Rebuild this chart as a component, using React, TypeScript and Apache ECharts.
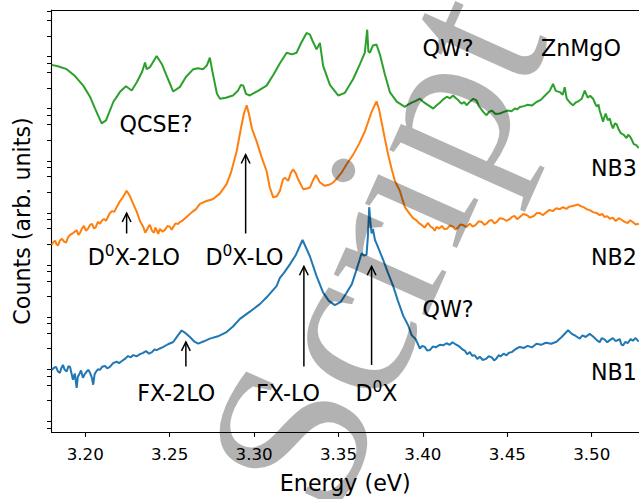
import React, { useEffect, useRef } from 'react';
import * as echarts from 'echarts';

// ---- axis ticks ----
const xTickValues = [3.2, 3.25, 3.3, 3.35, 3.4, 3.45, 3.5];
const yTickMantissas = [1, 2.5, 5, 7.5];
const yTickDecades = [-1, 0, 1, 2, 3, 4, 5, 6, 7];
const xRange = [3.18, 3.528];
const yRange = [-0.2024, 7.894]; // log10(counts)

// ---- spectra: [energy (eV), log10(counts)] ----
const nb1 = [
  [3.1801, 0.989], [3.1815, 1.03], [3.1827, 1.046], [3.1838, 0.96], [3.185, 0.933], [3.1858, 1.02], [3.1868, 1.084],
  [3.1878, 0.99], [3.189, 0.957], [3.19, 1.06], [3.191, 1.046], [3.1918, 0.93], [3.1927, 0.8], [3.1938, 0.92],
  [3.1949, 0.643], [3.1956, 0.86], [3.1963, 0.895], [3.1975, 0.98], [3.1986, 0.838], [3.1996, 0.9], [3.2008, 0.957],
  [3.2018, 0.99], [3.2028, 0.933], [3.2038, 0.85], [3.2047, 0.705], [3.2055, 0.9], [3.2063, 0.952], [3.2075, 1.0],
  [3.2087, 0.989], [3.21, 1.05], [3.2117, 1.065], [3.213, 1.02], [3.2146, 1.046], [3.2165, 1.12], [3.2186, 1.146],
  [3.22, 1.12], [3.2217, 1.16], [3.2235, 1.2], [3.2253, 1.254], [3.227, 1.23], [3.2284, 1.273], [3.2305, 1.25],
  [3.2324, 1.292], [3.234, 1.31], [3.236, 1.349], [3.2378, 1.3], [3.2395, 1.33], [3.241, 1.38], [3.2423, 1.368],
  [3.2442, 1.4], [3.246, 1.425], [3.249, 1.481], [3.2521, 1.525], [3.2549, 1.652], [3.2571, 1.746],
  [3.2596, 1.689], [3.262, 1.619], [3.2644, 1.538], [3.2669, 1.494], [3.2703, 1.538], [3.2738, 1.589],
  [3.2786, 1.633], [3.2837, 1.714], [3.2875, 1.822], [3.2916, 1.967], [3.2975, 2.106], [3.3034, 2.251],
  [3.3082, 2.408], [3.3133, 2.597], [3.3153, 2.754], [3.3177, 2.85], [3.3212, 3.014], [3.3248, 3.2],
  [3.3287, 3.481], [3.3331, 3.165], [3.337, 2.787], [3.3409, 2.471], [3.3443, 2.314], [3.3478, 2.232],
  [3.3514, 2.295], [3.3548, 2.471], [3.3579, 2.635], [3.3607, 2.913], [3.3637, 3.227], [3.365, 3.184],
  [3.3666, 3.197], [3.3674, 3.543], [3.3682, 4.111], [3.3689, 3.827], [3.3696, 3.606], [3.3704, 3.695],
  [3.3716, 3.481], [3.3725, 3.417], [3.3764, 3.103], [3.3792, 2.862], [3.3824, 2.597], [3.3852, 2.314],
  [3.3883, 2.03], [3.3913, 1.841], [3.3934, 1.652], [3.3958, 1.576], [3.3982, 1.4], [3.3996, 1.45], [3.4011, 1.43],
  [3.4025, 1.36], [3.4041, 1.37], [3.406, 1.44], [3.4076, 1.42], [3.41, 1.47], [3.412, 1.46], [3.414, 1.5],
  [3.4159, 1.47], [3.4175, 1.52], [3.4189, 1.49], [3.4205, 1.46], [3.4219, 1.43], [3.4235, 1.38], [3.4248, 1.36],
  [3.4262, 1.29], [3.4278, 1.33], [3.4292, 1.26], [3.4307, 1.27], [3.4322, 1.2], [3.4337, 1.24], [3.4355, 1.18],
  [3.4373, 1.2], [3.439, 1.25], [3.4408, 1.23], [3.4422, 1.17], [3.4436, 1.21], [3.4448, 1.27], [3.4461, 1.25],
  [3.4478, 1.3], [3.4495, 1.27], [3.451, 1.32], [3.4526, 1.33], [3.455, 1.39], [3.4574, 1.43], [3.4598, 1.41],
  [3.4621, 1.45], [3.4645, 1.42], [3.4673, 1.49], [3.47, 1.47], [3.4728, 1.51], [3.476, 1.49], [3.4791, 1.53],
  [3.4822, 1.62], [3.486, 1.75], [3.4882, 1.68], [3.4905, 1.64], [3.4929, 1.59], [3.4945, 1.65], [3.4964, 1.62],
  [3.4988, 1.68], [3.5008, 1.63], [3.503, 1.56], [3.5047, 1.52], [3.506, 1.6], [3.5077, 1.57], [3.5092, 1.52],
  [3.5107, 1.56], [3.5125, 1.6], [3.5142, 1.54], [3.5166, 1.58], [3.5175, 1.48], [3.5185, 1.46], [3.52, 1.53],
  [3.5213, 1.5], [3.523, 1.58], [3.5243, 1.55], [3.526, 1.6], [3.5279, 1.53],
];

const nb2 = [
  [3.1801, 3.386], [3.1811, 3.44], [3.1821, 3.468], [3.183, 3.4], [3.1838, 3.373], [3.185, 3.47], [3.1862, 3.506],
  [3.1874, 3.45], [3.1886, 3.43], [3.1898, 3.53], [3.191, 3.581], [3.193, 3.62], [3.1949, 3.67], [3.1959, 3.58],
  [3.1969, 3.619], [3.198, 3.7], [3.1992, 3.751], [3.2004, 3.66], [3.2016, 3.695], [3.2028, 3.77], [3.204, 3.789],
  [3.2052, 3.7], [3.2063, 3.732], [3.2075, 3.83], [3.2087, 3.795], [3.21, 3.86], [3.2111, 3.884], [3.2123, 3.85],
  [3.2134, 3.922], [3.2146, 4.0], [3.2158, 4.035], [3.2172, 4.02], [3.2186, 4.111], [3.2205, 4.224],
  [3.2223, 4.3], [3.2245, 4.427], [3.2265, 4.319], [3.2284, 4.173], [3.2306, 4.016], [3.2324, 3.846],
  [3.2344, 3.732], [3.2355, 3.62], [3.2365, 3.676], [3.2375, 3.74], [3.2383, 3.77], [3.2395, 3.66], [3.2407, 3.619],
  [3.2415, 3.72], [3.2423, 3.67], [3.2432, 3.6], [3.2442, 3.695], [3.2457, 3.64], [3.2472, 3.676], [3.2487, 3.75],
  [3.2502, 3.732], [3.2512, 3.68], [3.2521, 3.732], [3.2535, 3.8], [3.2549, 3.789], [3.2562, 3.83], [3.2573, 3.846],
  [3.26, 3.922], [3.2632, 4.016], [3.2656, 4.073], [3.2679, 4.173], [3.2715, 4.224], [3.2758, 4.268], [3.2798, 4.376],
  [3.2837, 4.552], [3.2863, 4.773], [3.2897, 5.183], [3.2922, 5.624], [3.294, 5.908], [3.2956, 6.065],
  [3.2969, 5.908], [3.2987, 5.624], [3.3015, 5.373], [3.3046, 5.057], [3.3074, 4.805], [3.3093, 4.489],
  [3.3113, 4.3], [3.3135, 4.319], [3.3153, 4.427], [3.3171, 4.64], [3.3182, 4.678], [3.3202, 4.616],
  [3.3218, 4.773], [3.3232, 4.835], [3.3248, 4.754], [3.3261, 4.646], [3.3291, 4.457], [3.3313, 4.47],
  [3.3331, 4.489], [3.3348, 4.621], [3.3366, 4.729], [3.339, 4.584], [3.3419, 4.521], [3.3449, 4.546],
  [3.3468, 4.584], [3.349, 4.659], [3.3518, 4.773], [3.355, 4.943], [3.3587, 5.119], [3.3621, 5.321],
  [3.3656, 5.562], [3.3696, 5.94], [3.3725, 6.141], [3.3739, 6.003], [3.3755, 5.751], [3.3774, 5.435],
  [3.3794, 5.119], [3.3816, 4.83], [3.3834, 4.616], [3.3863, 4.427], [3.3893, 4.111], [3.3922, 3.984],
  [3.3942, 3.9], [3.3962, 3.859], [3.3978, 3.8], [3.3993, 3.77], [3.401, 3.72], [3.4029, 3.808], [3.4045, 3.74],
  [3.4059, 3.714], [3.407, 3.66], [3.4081, 3.732], [3.4096, 3.7], [3.4112, 3.751], [3.4127, 3.69], [3.4142, 3.695],
  [3.416, 3.76], [3.4179, 3.732], [3.4193, 3.68], [3.4207, 3.714], [3.4222, 3.78], [3.4236, 3.77], [3.4257, 3.73],
  [3.4278, 3.795], [3.4295, 3.74], [3.4313, 3.77], [3.433, 3.84], [3.4349, 3.827], [3.4363, 3.77], [3.4377, 3.795],
  [3.4392, 3.85], [3.4408, 3.865], [3.4423, 3.8], [3.4438, 3.827], [3.4456, 3.9], [3.4475, 3.889], [3.4495, 3.85],
  [3.4515, 3.884], [3.453, 3.93], [3.4544, 3.941], [3.4558, 3.88], [3.4574, 3.922], [3.4595, 3.98], [3.4615, 3.96],
  [3.4635, 3.91], [3.4657, 3.941], [3.4675, 4.0], [3.4692, 3.997], [3.4712, 3.96], [3.4732, 4.016], [3.475, 4.06],
  [3.4769, 4.035], [3.479, 4.09], [3.4811, 4.073], [3.483, 4.11], [3.485, 4.079], [3.4866, 4.12], [3.4882, 4.13],
  [3.4919, 4.162], [3.4936, 4.13], [3.4953, 4.111], [3.497, 4.07], [3.4988, 4.054], [3.5008, 4.016], [3.5028, 4.0],
  [3.5047, 3.96], [3.5062, 3.98], [3.5077, 3.922], [3.5092, 3.94], [3.5107, 3.889], [3.5125, 3.91], [3.5142, 3.846],
  [3.516, 3.9], [3.5178, 3.865], [3.5195, 3.83], [3.5213, 3.808], [3.5228, 3.86], [3.5243, 3.827], [3.526, 3.78],
  [3.5279, 3.795],
];

const nb3 = [
  [3.1801, 6.841], [3.1838, 6.816], [3.189, 6.759], [3.1939, 6.627], [3.1988, 6.443], [3.2028, 6.23],
  [3.2058, 6.003], [3.2097, 5.719], [3.2123, 5.776], [3.2166, 6.129], [3.2206, 6.324], [3.2241, 6.432],
  [3.2275, 6.349], [3.2306, 6.513], [3.2336, 6.703], [3.2354, 6.886], [3.2364, 6.759], [3.2383, 6.797],
  [3.2423, 7.011], [3.2454, 6.854], [3.249, 6.57], [3.2521, 6.33], [3.2561, 6.419], [3.2596, 6.608],
  [3.264, 6.759], [3.2667, 6.778], [3.2699, 6.759], [3.2721, 6.835], [3.2738, 6.981], [3.2756, 6.665],
  [3.278, 6.286], [3.2798, 6.192], [3.2833, 6.211], [3.2875, 6.254], [3.2904, 6.343], [3.2922, 6.457],
  [3.2936, 6.443], [3.2952, 6.286], [3.2975, 6.254], [3.3023, 6.343], [3.3074, 6.443], [3.3117, 6.665],
  [3.3153, 6.873], [3.3193, 7.075], [3.3224, 7.043], [3.3252, 7.075], [3.3277, 7.251], [3.3311, 7.454],
  [3.3331, 7.422], [3.3348, 7.289], [3.337, 7.138], [3.339, 7.264], [3.3409, 6.822], [3.3449, 6.457],
  [3.3498, 6.254], [3.3538, 6.305], [3.3587, 6.57], [3.3627, 6.854], [3.3656, 7.075], [3.367, 7.516],
  [3.3677, 7.1], [3.3686, 7.075], [3.3704, 7.213], [3.3725, 7.232], [3.3745, 7.043], [3.3774, 6.665],
  [3.3804, 6.319], [3.3845, 6.135], [3.3893, 6.035], [3.3912, 6.08], [3.3934, 6.116], [3.3958, 6.15], [3.3982, 6.192],
  [3.4, 6.14], [3.4017, 6.097], [3.404, 6.05], [3.4061, 6.003], [3.408, 6.06], [3.41, 6.116], [3.412, 6.18],
  [3.4142, 6.23], [3.416, 6.2], [3.4179, 6.254], [3.4192, 6.21], [3.4207, 6.173], [3.422, 6.12], [3.4231, 6.097],
  [3.4245, 6.13], [3.4258, 6.065], [3.4268, 6.1], [3.4278, 6.135], [3.4298, 6.19], [3.4317, 6.16], [3.433, 6.06],
  [3.4343, 6.003], [3.436, 5.93], [3.4377, 5.876], [3.4392, 5.94], [3.4408, 5.965], [3.443, 5.9], [3.4455, 5.908],
  [3.448, 5.94], [3.4503, 5.965], [3.4525, 5.95], [3.4544, 6.003], [3.456, 5.99], [3.4574, 6.035], [3.46, 6.05],
  [3.4621, 6.078], [3.4645, 6.06], [3.4673, 6.129], [3.4698, 6.17], [3.4722, 6.249], [3.4751, 6.343],
  [3.4771, 6.476], [3.4787, 6.343], [3.4811, 6.319], [3.4828, 6.267], [3.484, 6.413], [3.4852, 6.192],
  [3.487, 6.12], [3.4889, 6.065], [3.4905, 6.12], [3.4917, 6.135], [3.4941, 6.192], [3.4959, 6.349], [3.4976, 6.211],
  [3.499, 6.25], [3.5008, 6.192], [3.502, 6.1], [3.503, 6.04], [3.504, 6.08], [3.5047, 5.965], [3.5057, 5.86],
  [3.5067, 5.751], [3.5075, 5.84], [3.5083, 5.908], [3.5095, 5.78], [3.5107, 5.813], [3.5116, 5.7], [3.5126, 5.624],
  [3.5137, 5.72], [3.5148, 5.7], [3.516, 5.6], [3.5172, 5.53], [3.519, 5.5], [3.5206, 5.435], [3.5216, 5.5],
  [3.5226, 5.473], [3.5238, 5.4], [3.5249, 5.322], [3.5264, 5.3], [3.5279, 5.246],
];

// ---- annotations (data coordinates) ----
const labelTexts = ['QCSE?', 'QW?', 'ZnMgO', 'NB3', 'NB2', 'NB1', 'QW?', 'D^0X', 'D^0X-2LO', 'D^0X-LO', 'FX-2LO', 'FX-LO'];
const labelEnergies = [3.2419, 3.4149, 3.4936, 3.5131, 3.5131, 3.5131, 3.4149, 3.3725, 3.2288, 3.2943, 3.2539, 3.3201];
const labelLogCounts = [5.699, 7.174, 7.174, 4.854, 3.159, 0.952, 2.16, 0.549, 3.161, 3.161, 0.549, 0.549];

const arrowEnergies = [3.2245, 3.295, 3.2596, 3.3295, 3.3696];
const arrowTails = [3.606, 3.606, 1.052, 1.052, 1.084];
const arrowHeads = [3.997, 5.119, 1.525, 2.976, 2.976];

const FONT = 'DejaVu Sans';

function toRich(t: string) {
  return '{n|' + t.replace(/\^(\w)/g, '}{s|$1}{n|') + '}';
}

export default function App() {
  const ref = useRef<HTMLDivElement>(null);
  useEffect(() => {
    if (!ref.current) return;
    const chart = echarts.init(ref.current, undefined, { renderer: 'svg' });
    const yTicks: number[] = [];
    yTickDecades.forEach((d) =>
      yTickMantissas.forEach((m) => {
        const v = d + Math.log10(m);
        if (v >= yRange[0] && v <= yRange[1]) yTicks.push(v);
      })
    );
    const axisColor = '#000';
    const lineSeries = (name: string, data: number[][], color: string) => ({
      name,
      type: 'line',
      data,
      showSymbol: false,
      symbol: 'none',
      lineStyle: { color, width: 2 },
      z: 2,
    });
    const option: any = {
      animation: false,
      grid: { left: 51.5, right: 0, top: 10, bottom: 61 },
      xAxis: [
        {
          type: 'value',
          min: xRange[0],
          max: xRange[1],
          axisLine: { show: true, onZero: false, lineStyle: { color: axisColor, width: 1.1 } },
          axisTick: { show: true, customValues: xTickValues, length: 4.9, lineStyle: { color: axisColor, width: 1.1 } },
          axisLabel: {
            show: true,
            customValues: xTickValues,
            formatter: (v: number) => v.toFixed(2),
            fontSize: 16.7,
            fontFamily: FONT,
            color: '#000',
            margin: 13,
          },
          splitLine: { show: false },
          name: 'Energy (eV)',
          nameLocation: 'middle',
          nameGap: 40,
          nameTextStyle: { fontSize: 22.2, fontFamily: FONT, color: '#000' },
        },
        {
          type: 'value',
          position: 'top',
          min: xRange[0],
          max: xRange[1],
          axisLine: { show: true, onZero: false, lineStyle: { color: axisColor, width: 1.1 } },
          axisTick: { show: false },
          axisLabel: { show: false },
          splitLine: { show: false },
        },
      ],
      yAxis: {
        type: 'value',
        min: yRange[0],
        max: yRange[1],
        axisLine: { show: true, onZero: false, lineStyle: { color: axisColor, width: 1.1 } },
        axisTick: { show: true, customValues: yTicks, length: 4.5, lineStyle: { color: axisColor, width: 1 } },
        axisLabel: { show: false },
        splitLine: { show: false },
        name: 'Counts (arb. units)',
        nameLocation: 'middle',
        nameGap: 19,
        nameTextStyle: { fontSize: 22.2, fontFamily: FONT, color: '#000' },
      },
      series: [
        lineSeries('NB1', nb1, '#1f77b4'),
        lineSeries('NB2', nb2, '#ff7f0e'),
        lineSeries('NB3', nb3, '#2ca02c'),
        {
          type: 'custom',
          silent: true,
          z: 5,
          clip: false,
          data: labelTexts.map((_, i) => [labelEnergies[i], labelLogCounts[i]]),
          renderItem: (params: any, api: any) => {
            const i = params.dataIndex;
            const p = api.coord([labelEnergies[i], labelLogCounts[i]]);
            return {
              type: 'text',
              x: p[0],
              y: p[1],
              style: {
                text: toRich(labelTexts[i]),
                align: 'center',
                verticalAlign: 'middle',
                fill: '#000',
                rich: {
                  n: { fontSize: 22.2, fontFamily: FONT, fill: '#000', lineHeight: 26 },
                  s: { fontSize: 15.5, fontFamily: FONT, fill: '#000', lineHeight: 18, padding: [0, 0, 12, 0] },
                },
              },
            };
          },
        },
        {
          type: 'custom',
          silent: true,
          z: 5,
          clip: false,
          data: arrowEnergies.map((e, i) => [e, arrowTails[i], arrowHeads[i]]),
          encode: { x: 0, y: [1, 2] },
          renderItem: (params: any, api: any) => {
            const i = params.dataIndex;
            const t = api.coord([arrowEnergies[i], arrowTails[i]]);
            const h = api.coord([arrowEnergies[i], arrowHeads[i]]);
            const dx = t[0] - h[0];
            const dy = t[1] - h[1];
            const L = Math.sqrt(dx * dx + dy * dy) || 1;
            const ux = dx / L, uy = dy / L;
            const hl = 8.9, hw = 4.4;
            const bx = h[0] + ux * hl, by = h[1] + uy * hl;
            return {
              type: 'group',
              children: [
                { type: 'line', shape: { x1: t[0], y1: t[1], x2: h[0], y2: h[1] }, style: { stroke: '#000', lineWidth: 1.5 } },
                {
                  type: 'polyline',
                  shape: { points: [[bx - uy * hw, by + ux * hw], [h[0], h[1]], [bx + uy * hw, by - ux * hw]] },
                  style: { stroke: '#000', lineWidth: 1.5, fill: 'none' },
                },
              ],
            };
          },
        },
      ],
      graphic: [
        {
          type: 'text',
          x: 374,
          y: 250,
          rotation: (66 * Math.PI) / 180,
          z: 100,
          silent: true,
          style: {
            text: 'Script',
            fontSize: 222,
            fontFamily: 'Liberation Serif',
            fill: 'rgba(0,0,0,0.3)',
            align: 'center',
            verticalAlign: 'middle',
          },
        },
      ],
    };
    chart.setOption(option);
    return () => chart.dispose();
  }, []);
  return <div ref={ref} style={{ position: 'absolute', left: 0, top: 0, width: 639, height: 499 }} />;
}
